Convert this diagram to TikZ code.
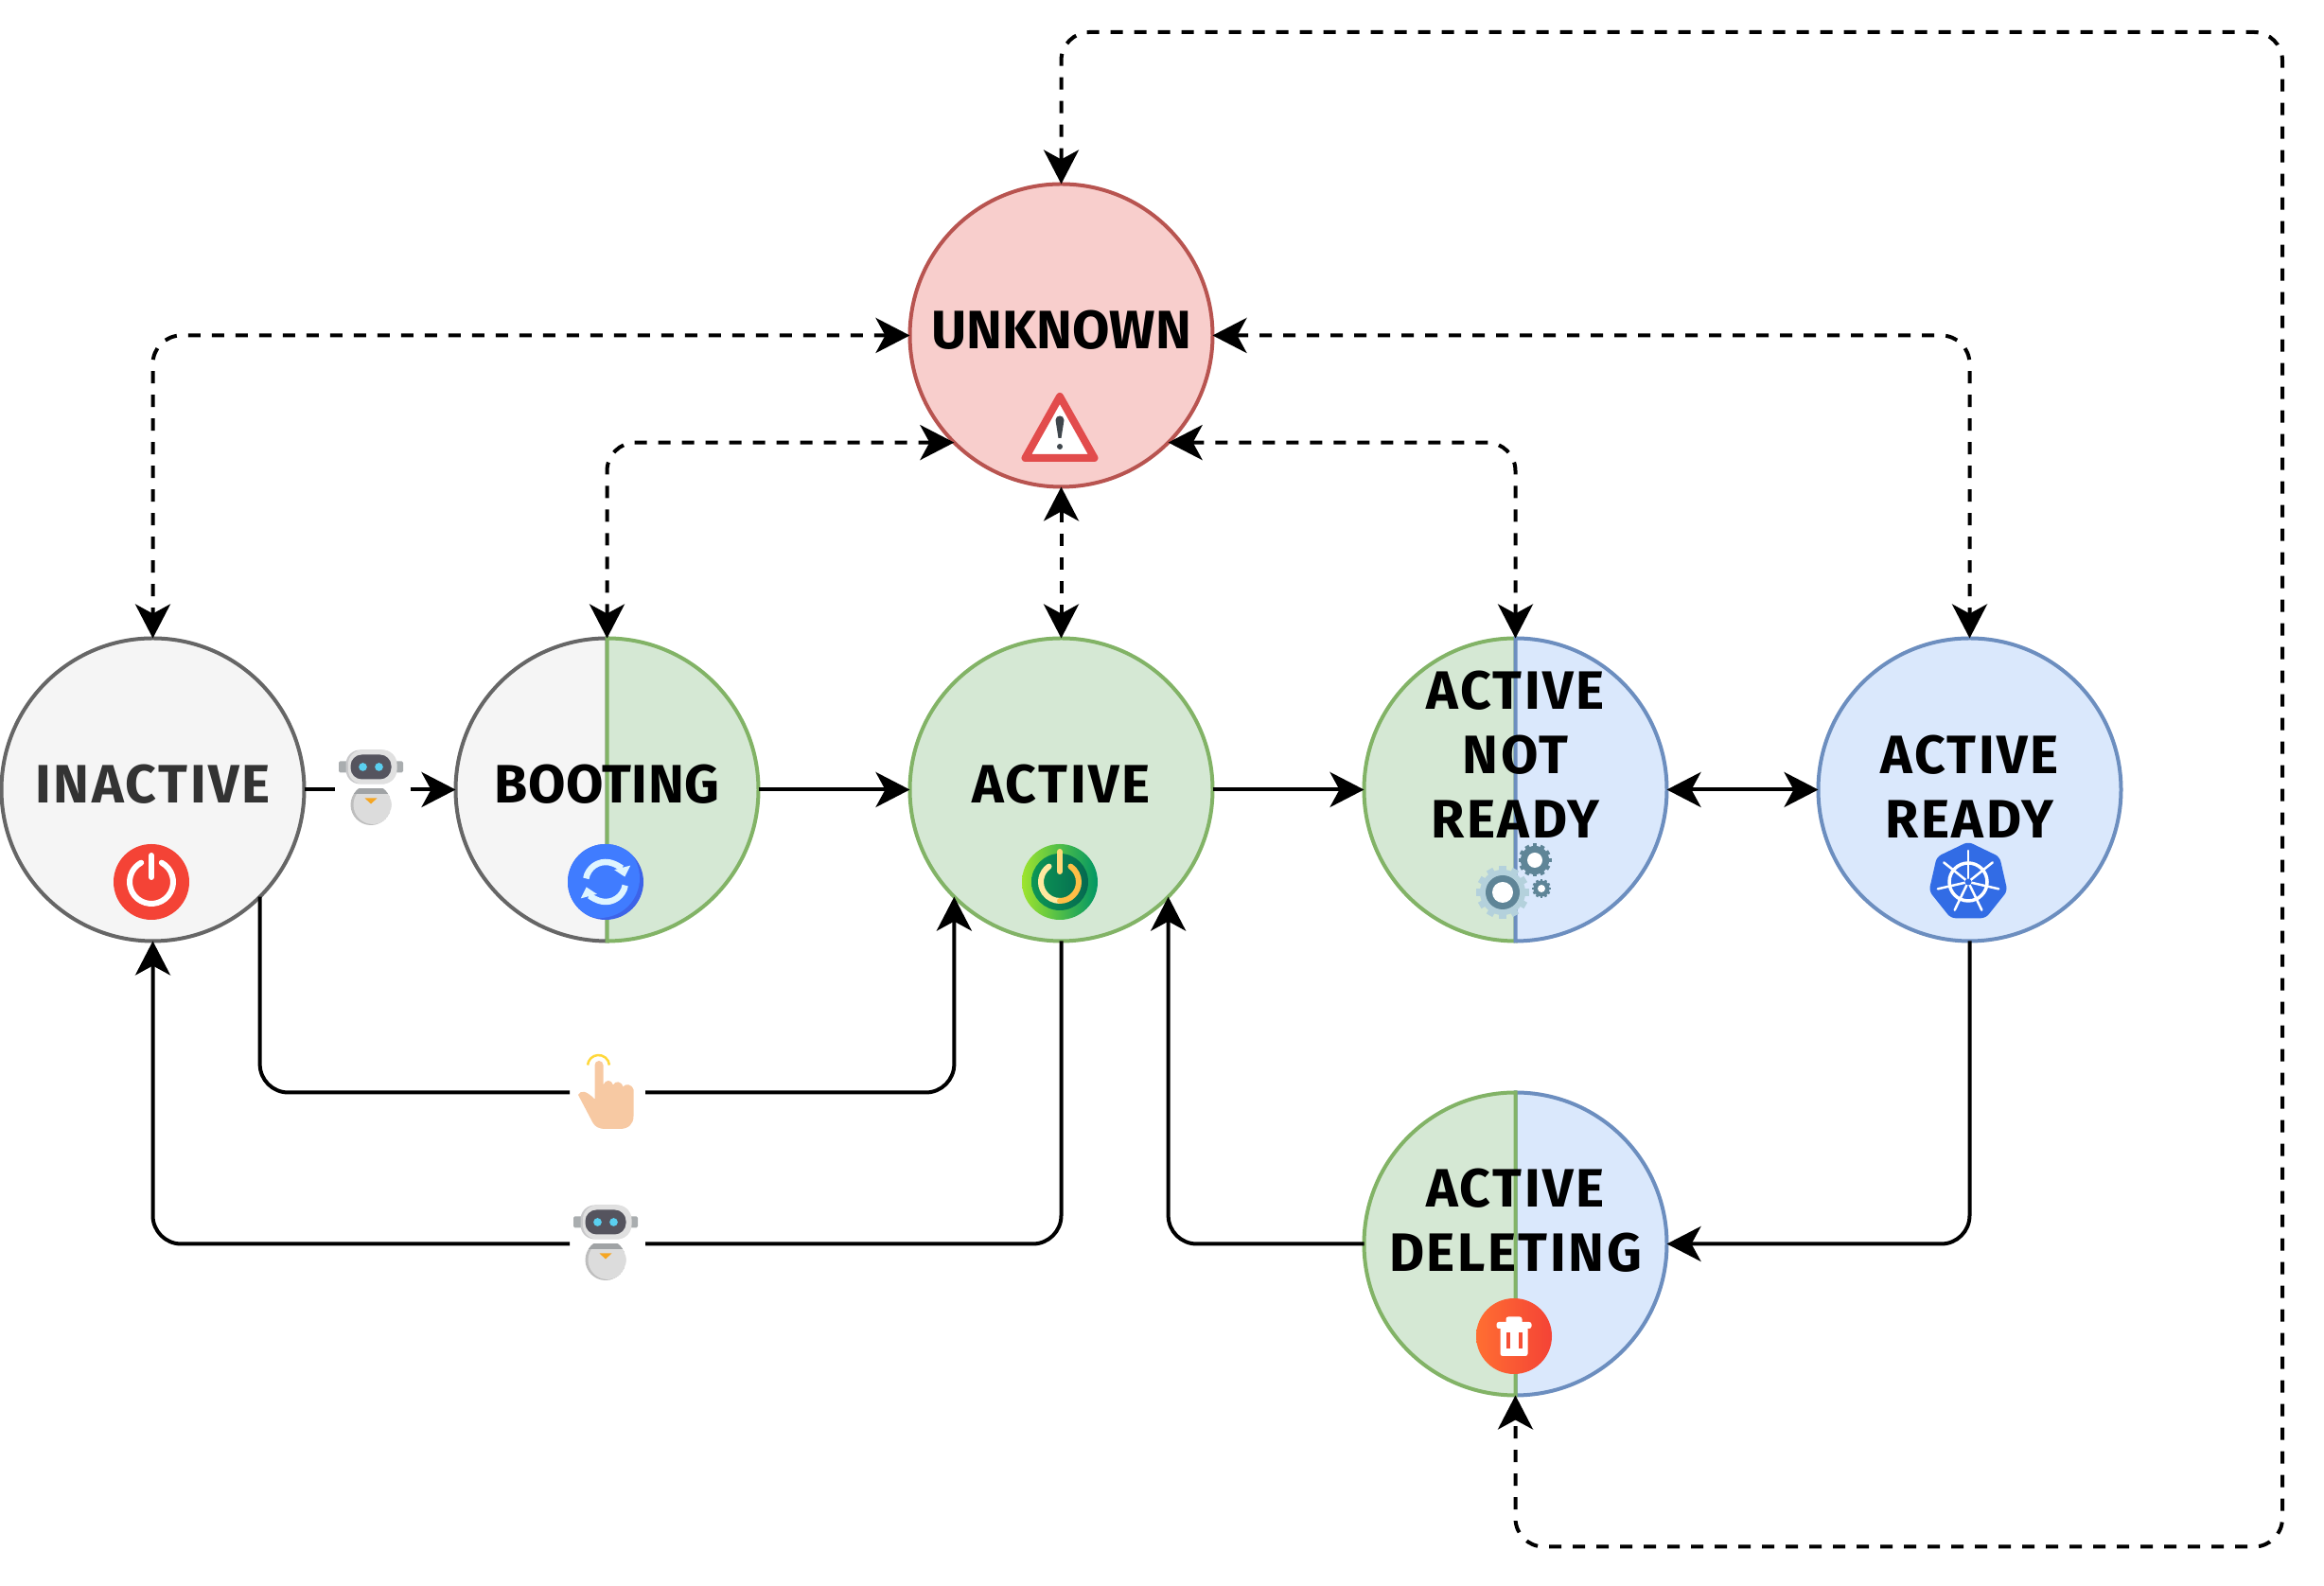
\documentclass[tikz,border=0pt]{standalone}
\usepackage{fontspec}
\setmainfont{Fira Sans}
\usetikzlibrary{arrows.meta,positioning,calc}

\definecolor{offfill}{HTML}{F5F5F5}
\definecolor{offline}{HTML}{666666}
\definecolor{onfill}{HTML}{D5E8D4}
\definecolor{online}{HTML}{82B366}
\definecolor{readyfill}{HTML}{DAE8FC}
\definecolor{readyline}{HTML}{6C8EBF}
\definecolor{errfill}{HTML}{F8CECC}
\definecolor{errline}{HTML}{B85450}
\definecolor{skin}{HTML}{F7C9A3}
\definecolor{gearlight}{HTML}{B4D1DC}
\definecolor{geardark}{HTML}{5F8597}
\definecolor{powerred}{HTML}{F44336}
\definecolor{refreshdark}{HTML}{3D63E8}
\definecolor{refreshblue}{HTML}{407CFF}
\definecolor{refreshpale}{HTML}{DFF5FF}
\definecolor{limeleft}{HTML}{9EE42E}
\definecolor{limemid}{HTML}{1EAF50}
\definecolor{limeright}{HTML}{009664}
\definecolor{pineleft}{HTML}{0C9655}
\definecolor{pineright}{HTML}{056950}
\definecolor{ringpale}{HTML}{FFE9A0}
\definecolor{ringmid}{HTML}{FFD97A}
\definecolor{ringdeep}{HTML}{FFBE46}
\definecolor{warnred}{HTML}{E24C4C}
\definecolor{warndark}{HTML}{3F464C}
\definecolor{kubeblue}{HTML}{326CE5}
\definecolor{trashorange}{HTML}{FF6E32}
\definecolor{trashslot}{HTML}{F65036}
\definecolor{touchyellow}{HTML}{FFD83B}
\definecolor{robotear}{HTML}{A9ADAF}
\definecolor{robotshade}{HTML}{C8C8CA}
\definecolor{robotlight}{HTML}{E0E0E0}
\definecolor{robotface}{HTML}{55545E}
\definecolor{roboteye}{HTML}{5AD0F0}
\definecolor{robotbody}{HTML}{DCDCDC}
\definecolor{robotside}{HTML}{BEBEBE}
\definecolor{robotcollar}{HTML}{A0A3A5}
\definecolor{robotbadge}{HTML}{F5A623}

% half of a state circle on each side, the one drawn first sweeps to #4
\newcommand{\halves}[4]{
  \draw[#2] (#1.north) arc[start angle=90, end angle=#4, radius=3.2cm] -- cycle;
  \draw[#3] (#1.north) arc[start angle=90, end angle=180-#4, radius=3.2cm] -- cycle;
}
% a cog: x, y, radius, colour
\newcommand{\cog}[4]{
  \fill[#4] (#1,#2) circle[radius=0.86*#3];
  \foreach \a in {0,30,...,330} {
    \fill[#4, rotate around={\a:(#1,#2)}] ($(#1,#2)+(-0.13*#3,0)$) rectangle ($(#1,#2)+(0.13*#3,#3)$);
  }
}

\tikzset{
  powericon/.pic={
    \fill[powerred] (0,0) circle[radius=0.8];
    \draw[white, line width=0.12cm, line cap=round] (62:0.46) arc[start angle=62, end angle=-242, radius=0.46];
    \draw[white, line width=0.12cm, line cap=round] (0,0.56) -- (0,0.1);
  },
  refreshicon/.pic={
    \fill[refreshdark] (0,0) circle[radius=0.8];
    \begin{scope}
      \clip (0,0) circle[radius=0.8];
      \fill[refreshblue] (-0.12,0.08) circle[radius=0.84];
    \end{scope}
    \draw[refreshpale, line width=0.13cm, -{Stealth[length=0.2cm, width=0.34cm, inset=0pt]}] (170:0.42) arc[start angle=170, end angle=15, radius=0.42];
    \draw[refreshpale, line width=0.13cm, -{Stealth[length=0.2cm, width=0.34cm, inset=0pt]}] (-10:0.42) arc[start angle=-10, end angle=-165, radius=0.42];
  },
  greenpower/.pic={
    \shade[left color=limeleft, middle color=limemid, right color=limeright] (0,0) circle[radius=0.8];
    \shade[left color=pineleft, right color=pineright] (0,0) circle[radius=0.6];
    \draw[ringpale, line width=0.12cm, line cap=round] (125:0.4) arc[start angle=125, end angle=270, radius=0.4];
    \draw[ringdeep, line width=0.12cm, line cap=round] (270:0.4) arc[start angle=270, end angle=415, radius=0.4];
    \draw[ringmid, line width=0.12cm, line cap=round] (0,0.64) -- (0,0.22);
  },
  warnicon/.pic={
    \draw[line width=0.16cm, line join=round, draw=warnred, fill=white] (0,0.66) -- (0.73,-0.64) -- (-0.73,-0.64) -- cycle;
    \fill[warndark] (-0.09,0.16) .. controls (-0.09,0.28) and (0.09,0.28) .. (0.09,0.16) -- (0.03,-0.22) -- (-0.03,-0.22) -- cycle;
    \fill[warndark] (0,-0.4) circle[radius=0.06];
  },
  gearsicon/.pic={
    \cog{-0.24}{-0.22}{0.56}{gearlight}
    \fill[geardark] (-0.24,-0.22) circle[radius=0.36];
    \fill[white] (-0.24,-0.22) circle[radius=0.22];
    \cog{0.44}{0.46}{0.35}{geardark}
    \fill[white] (0.44,0.46) circle[radius=0.16];
    \cog{0.58}{-0.14}{0.2}{geardark}
    \fill[white] (0.58,-0.14) circle[radius=0.08];
  },
  wheelicon/.pic={
    \fill[kubeblue, rounded corners=0.1cm] (90:0.85) -- (141.4:0.85) -- (192.9:0.85) -- (244.3:0.85) -- (295.7:0.85) -- (347.1:0.85) -- (38.6:0.85) -- cycle;
    \draw[white, line width=0.07cm] (0,0) circle[radius=0.4];
    \foreach \a in {90,141.4,192.9,244.3,295.7,347.1,38.6} {
      \draw[white, line width=0.05cm, line cap=round] (0,0) -- (\a:0.66);
    }
    \fill[kubeblue] (0,0) circle[radius=0.07];
  },
  trashicon/.pic={
    \shade[shading angle=135, left color=trashorange, right color=powerred] (0,0) circle[radius=0.8];
    \fill[white, rounded corners=0.05cm] (-0.29,0.2) rectangle (0.29,-0.42);
    \fill[white, rounded corners=0.05cm] (-0.37,0.3) rectangle (0.37,0.16);
    \fill[white, rounded corners=0.05cm] (-0.17,0.41) rectangle (0.17,0.25);
    \fill[trashslot] (-0.17,0.07) rectangle (-0.09,-0.27);
    \fill[trashslot] (0.09,0.07) rectangle (0.17,-0.27);
  },
  handicon/.pic={
    \fill[skin] (-0.58,-0.08) .. controls (-0.52,0.02) and (-0.42,0.02) .. (-0.23,-0.17) -- (-0.23,0.55)
      arc[start angle=180, end angle=0, radius=0.09] -- (-0.05,0.13)
      .. controls (0,0.25) and (0.12,0.25) .. (0.16,0.13)
      .. controls (0.2,0.22) and (0.33,0.22) .. (0.37,0.09)
      .. controls (0.41,0.16) and (0.55,0.16) .. (0.59,0.03) -- (0.59,-0.53)
      .. controls (0.59,-0.7) and (0.48,-0.8) .. (0.3,-0.8) -- (0,-0.8)
      .. controls (-0.15,-0.8) and (-0.22,-0.75) .. (-0.27,-0.67) -- cycle;
    \draw[touchyellow, line width=0.05cm] (-0.15,0.53) ++(5:0.23) arc[start angle=5, end angle=175, radius=0.23];
  },
  roboticon/.pic={
    \fill[robotear, rounded corners=0.03cm] (-0.68,0.55) rectangle (0.68,0.31);
    \fill[robotshade, rounded corners=0.3cm] (-0.53,0.79) rectangle (0.53,0.07);
    \fill[robotlight, rounded corners=0.3cm] (-0.48,0.79) rectangle (0.55,0.07);
    \fill[robotface, rounded corners=0.24cm] (-0.43,0.69) rectangle (0.43,0.17);
    \fill[roboteye] (-0.17,0.43) circle[radius=0.087];
    \fill[roboteye] (0.17,0.43) circle[radius=0.087];
    \begin{scope}
      \clip (-0.6,-0.03) rectangle (0.6,-0.9);
      \clip (0,-0.37) circle[radius=0.43];
      \fill[robotside] (0,-0.37) circle[radius=0.43];
      \fill[robotbody] (0.04,-0.37) circle[radius=0.41];
      \fill[robotcollar] (-0.6,-0.03) rectangle (0.6,-0.14);
    \end{scope}
    \fill[robotbadge] (-0.13,-0.23) -- (0.13,-0.23) -- (0,-0.35) -- cycle;
  },
}

\begin{document}
\begin{tikzpicture}[
  statenode/.style={circle, minimum size=6.4cm, inner sep=0pt, outer sep=0pt, line width=0.08cm},
  offstate/.style={draw=offline, fill=offfill, line width=0.08cm},
  onstate/.style={draw=online, fill=onfill, line width=0.08cm},
  readystate/.style={draw=readyline, fill=readyfill, line width=0.08cm},
  errstate/.style={draw=errline, fill=errfill, line width=0.08cm},
  caption/.style={align=center, inner sep=0pt, font=\fontsize{32.5}{38.7}\selectfont\bfseries\addfontfeature{LetterSpace=#1}},
  caption/.default=4.5,
  iconbox/.style={rectangle, minimum size=1.6cm, inner sep=0pt, outer sep=0pt},
  arrow/.style={line width=0.08cm},
  dasharrow/.style={arrow, rounded corners=0.6cm, dash pattern=on 0.26cm off 0.24cm},
  >={Stealth[length=0.72cm, width=0.74cm, inset=0.2cm]},
]
\useasboundingbox (0,0) rectangle (49.12,33.52);

% States
\node[statenode, offstate] (inactive) at (3.23,16.83) {};
\node[statenode, right=3.2cm of inactive] (booting) {};
\node[statenode, onstate, right=3.2cm of booting] (active) {};
\node[statenode, right=3.2cm of active] (notready) {};
\node[statenode, readystate, right=3.2cm of notready] (ready) {};
\node[statenode, errstate, above=3.2cm of active] (unknown) {};
\node[statenode, below=3.2cm of notready] (deleting) {};

\halves{booting}{offstate}{onstate}{270}
\halves{notready}{onstate}{readystate}{270}
\halves{deleting}{readystate}{onstate}{-90}

% Labels
\node[caption, text=black!80] (inactivetxt) at ([yshift=0.11cm]inactive) {INACTIVE};
\node[caption=1] (bootingtxt) at ([yshift=0.11cm]booting) {BOOTING};
\node[caption] (activetxt) at ([yshift=0.11cm]active) {ACTIVE};
\node[caption] (notreadytxt) at ([yshift=0.75cm]notready) {ACTIVE\\NOT\\READY};
\node[caption] (readytxt) at ([yshift=0.07cm]ready) {ACTIVE\\READY};
\node[caption] (deletingtxt) at ([yshift=0.49cm]deleting) {ACTIVE\\DELETING};
\node[caption=0] (unknowntxt) at ([yshift=0.11cm]unknown) {UNKNOWN};

% Icons
\pic at ([shift={(-0.03cm,-1.95cm)}]inactive) {powericon};
\pic at ([shift={(-0.03cm,-1.95cm)}]booting) {refreshicon};
\pic at ([shift={(-0.03cm,-1.95cm)}]active) {greenpower};
\pic at ([shift={(-0.03cm,-1.95cm)}]notready) {gearsicon};
\pic at ([shift={(-0.03cm,-1.95cm)}]ready) {wheelicon};
\pic at ([shift={(-0.03cm,-1.95cm)}]deleting) {trashicon};
\pic at ([shift={(-0.03cm,-1.95cm)}]unknown) {warnicon};

\node[iconbox, right=0.64cm of inactive] (robota) {};
\node[iconbox, below=2.4cm of booting, xshift=0.01cm] (hand) {};
\node[iconbox, below=1.6cm of hand] (robotb) {};
\pic at ([shift={(-0.03cm,0.05cm)}]robota) {roboticon};
\pic at ([shift={(-0.04cm,0.03cm)}]hand) {handicon};
\pic at ([shift={(-0.04cm,0.03cm)}]robotb) {roboticon};

% Arrows
\draw[arrow] (inactive) -- (robota);
\foreach \i/\j in {robota/booting, booting/active, active/notready} {
  \draw[arrow, ->] (\i) -- (\j);
}
\draw[arrow, <->] (notready) -- (ready);
\draw[arrow, rounded corners=0.6cm] (inactive.south east) |- (hand.west);
\draw[arrow, ->, rounded corners=0.6cm] (hand.east) -| (active.south west);
\draw[arrow, rounded corners=0.6cm] (active.south) |- (robotb.east);
\draw[arrow, ->, rounded corners=0.6cm] (robotb.west) -| (inactive.south);
\draw[arrow, ->, rounded corners=0.6cm] (ready.south) |- (deleting.east);
\draw[arrow, ->, rounded corners=0.6cm] (deleting.west) -| (active.south east);

% Dashed arrows
\draw[dasharrow, <->] (unknown.west) -| (inactive.north);
\draw[dasharrow, <->] (unknown.south west) -| (booting.north);
\draw[dasharrow, <->] (unknown.south) -- (active.north);
\draw[dasharrow, <->] (unknown.south east) -| (notready.north);
\draw[dasharrow, <->] (unknown.east) -| (ready.north);
\draw[dasharrow, <->] (unknown.north) |- (48.24,32.84) |- ($(deleting.south)+(0,-3.2)$) -- (deleting.south);

\end{tikzpicture}
\end{document}
